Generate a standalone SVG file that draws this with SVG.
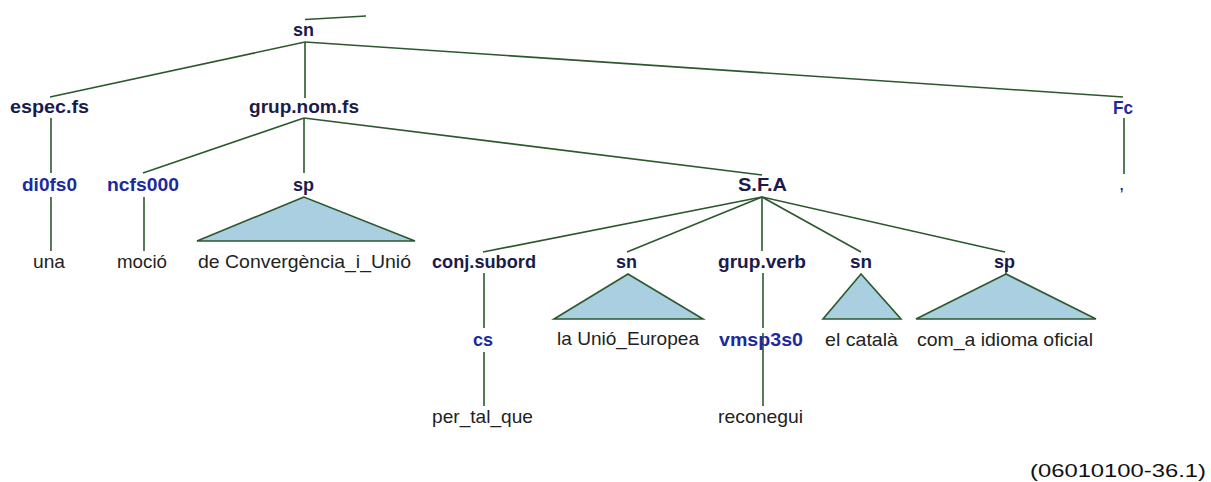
<svg xmlns="http://www.w3.org/2000/svg" width="1211" height="482" viewBox="0 0 1211 482">
<style>
.bg{fill:#ffffff}
.e{stroke:#2d582d;stroke-width:1.6;fill:none}
.tri{fill:#a9cfe0;stroke:#2d582d;stroke-width:1.6;stroke-linejoin:miter}
.cat{font-family:"Liberation Sans",Arial,sans-serif;font-weight:bold;font-size:19px;fill:#1b1b4b}
.pos{font-family:"Liberation Sans",Arial,sans-serif;font-weight:bold;font-size:19px;fill:#1d2a9e}
.w{font-family:"Liberation Sans",Arial,sans-serif;font-size:19px;fill:#222222}
.foot{font-family:"Liberation Sans",Arial,sans-serif;font-size:18px;fill:#111111}
</style>
<rect class="bg" x="0" y="0" width="1211" height="482"/>
<g id="connectors">
<line class="e" x1="305" y1="19.5" x2="366" y2="16"/>
<line class="e" x1="305" y1="42" x2="50" y2="97"/>
<line class="e" x1="305" y1="42" x2="305" y2="98"/>
<line class="e" x1="305" y1="42" x2="1123" y2="97"/>
<line class="e" x1="51" y1="118" x2="51" y2="173"/>
<line class="e" x1="51" y1="197" x2="51" y2="251"/>
<line class="e" x1="304" y1="118" x2="143" y2="173"/>
<line class="e" x1="304" y1="118" x2="304" y2="173"/>
<line class="e" x1="304" y1="118" x2="762" y2="175"/>
<line class="e" x1="144" y1="197" x2="144" y2="251"/>
<line class="e" x1="1124" y1="118" x2="1124" y2="174"/>
<line class="e" x1="762" y1="197" x2="483" y2="252"/>
<line class="e" x1="762" y1="197" x2="627" y2="252"/>
<line class="e" x1="762" y1="197" x2="762" y2="251"/>
<line class="e" x1="762" y1="197" x2="861" y2="252"/>
<line class="e" x1="762" y1="197" x2="1005" y2="252"/>
<line class="e" x1="484" y1="273" x2="484" y2="328"/>
<line class="e" x1="484" y1="352" x2="484" y2="406"/>
<line class="e" x1="763" y1="273" x2="763" y2="328"/>
<line class="e" x1="763" y1="333" x2="763" y2="406"/>
<line class="e" x1="1006" y1="264" x2="1006" y2="274"/>
</g>
<g id="n_sn_root"><text class="cat" x="293" y="36" textLength="21" lengthAdjust="spacingAndGlyphs">sn</text></g>
<g id="n_espec"><text class="cat" x="10" y="113" textLength="79" lengthAdjust="spacingAndGlyphs">espec.fs</text></g>
<g id="n_grupnom"><text class="cat" x="249" y="113" textLength="110" lengthAdjust="spacingAndGlyphs">grup.nom.fs</text></g>
<g id="n_fc"><text class="pos" x="1113" y="114" textLength="20" lengthAdjust="spacingAndGlyphs">Fc</text></g>
<g id="n_di0fs0"><text class="pos" x="22" y="191" textLength="55" lengthAdjust="spacingAndGlyphs">di0fs0</text></g>
<g id="n_ncfs000"><text class="pos" x="107" y="191" textLength="72" lengthAdjust="spacingAndGlyphs">ncfs000</text></g>
<g id="n_sp1"><text class="cat" x="293" y="191" textLength="21" lengthAdjust="spacingAndGlyphs">sp</text>
<polygon class="tri" points="304,197 197,241 415,241"/></g>
<g id="n_sfa"><text class="cat" x="738" y="191" textLength="49" lengthAdjust="spacingAndGlyphs">S.F.A</text></g>
<g id="n_comma"><text class="w" x="1119" y="190">,</text></g>
<g id="n_una"><text class="w" x="33" y="268" textLength="32" lengthAdjust="spacingAndGlyphs">una</text></g>
<g id="n_mocio"><text class="w" x="117" y="268" textLength="50" lengthAdjust="spacingAndGlyphs">moció</text></g>
<g id="n_conv"><text class="w" x="198" y="268" textLength="213" lengthAdjust="spacingAndGlyphs">de Convergència_i_Unió</text></g>
<g id="n_conj"><text class="cat" x="432" y="268" textLength="104" lengthAdjust="spacingAndGlyphs">conj.subord</text></g>
<g id="n_sn2"><text class="cat" x="616" y="268" textLength="21" lengthAdjust="spacingAndGlyphs">sn</text>
<polygon class="tri" points="628,274 554,319 703,319"/></g>
<g id="n_grupverb"><text class="cat" x="718" y="268" textLength="88" lengthAdjust="spacingAndGlyphs">grup.verb</text></g>
<g id="n_sn3"><text class="cat" x="850" y="268" textLength="22" lengthAdjust="spacingAndGlyphs">sn</text>
<polygon class="tri" points="861,274 823,319 901,319"/></g>
<g id="n_sp3"><text class="cat" x="994" y="268" textLength="21" lengthAdjust="spacingAndGlyphs">sp</text>
<polygon class="tri" points="1006,274 916,319 1096,319"/></g>
<g id="n_cs"><text class="pos" x="473" y="346" textLength="20" lengthAdjust="spacingAndGlyphs">cs</text></g>
<g id="n_unio"><text class="w" x="557" y="345" textLength="142" lengthAdjust="spacingAndGlyphs">la Unió_Europea</text></g>
<g id="n_vmsp"><text class="pos" x="719" y="346" textLength="84" lengthAdjust="spacingAndGlyphs">vmsp3s0</text></g>
<g id="n_catala"><text class="w" x="825" y="346" textLength="73" lengthAdjust="spacingAndGlyphs">el català</text></g>
<g id="n_idioma"><text class="w" x="917" y="346" textLength="176" lengthAdjust="spacingAndGlyphs">com_a idioma oficial</text></g>
<g id="n_pertal"><text class="w" x="432" y="423" textLength="101" lengthAdjust="spacingAndGlyphs">per_tal_que</text></g>
<g id="n_reconegui"><text class="w" x="718" y="423" textLength="85" lengthAdjust="spacingAndGlyphs">reconegui</text></g>
<g id="footer"><text class="foot" x="1030" y="477" textLength="176" lengthAdjust="spacingAndGlyphs">(06010100-36.1)</text></g>
</svg>
